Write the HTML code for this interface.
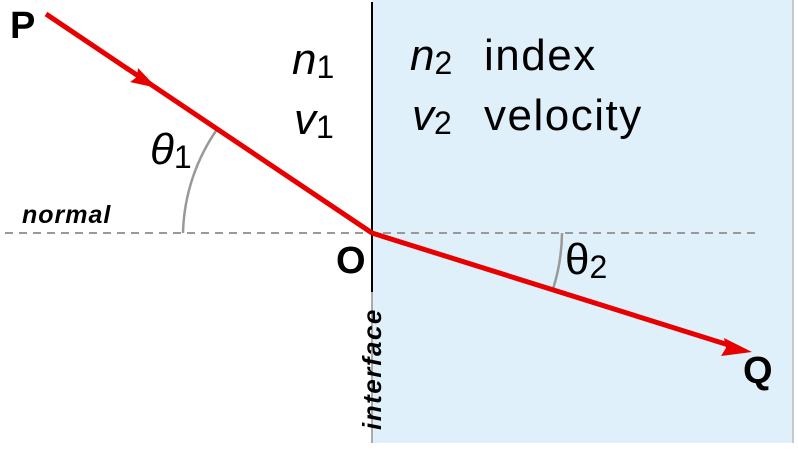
<!DOCTYPE html>
<html><head><style>body{margin:0;background:#fff}</style></head><body>
<svg width="798" height="450" xmlns="http://www.w3.org/2000/svg" font-family="Liberation Sans, DejaVu Sans, sans-serif">
<rect x="372" y="0" width="421" height="443" fill="#dff0fb"/>
<line x1="793" y1="0" x2="793" y2="443" stroke="#bbb" stroke-width="1.5"/>
<line x1="372" y1="2" x2="372" y2="292" stroke="#000" stroke-width="2"/>
<line x1="372" y1="292" x2="372" y2="443" stroke="#aaa" stroke-width="2"/>
<line x1="5" y1="233" x2="760" y2="233" stroke="#999" stroke-width="2" stroke-dasharray="8,6"/>
<path d="M183 233 A189 189 0 0 1 218 128" fill="none" stroke="#999" stroke-width="2.5"/>
<path d="M562 233 A190 190 0 0 1 553 289" fill="none" stroke="#999" stroke-width="2.5"/>
<line x1="46" y1="14" x2="372" y2="233" stroke="#e80000" stroke-width="5"/>
<line x1="372" y1="233" x2="735" y2="347" stroke="#e80000" stroke-width="5"/>
<path d="M157 88 L130 82 L137 77 L138 68 Z" fill="#e80000"/>
<path d="M752 352 L721 356 L726 348 L724 338 Z" fill="#e80000"/>
<g font-size="44" fill="#000">
<text x="292" y="74" font-style="italic">n<tspan font-size="32" font-style="normal" dy="4">1</tspan></text>
<text x="294" y="134" font-style="italic">v<tspan font-size="32" font-style="normal" dy="4">1</tspan></text>
<text x="410" y="70" font-style="italic">n<tspan font-size="32" font-style="normal" dy="4">2</tspan></text>
<text x="484" y="70" letter-spacing="1.5">index</text>
<text x="412" y="130" font-style="italic">v<tspan font-size="32" font-style="normal" dy="4">2</tspan></text>
<text x="484" y="130" letter-spacing="1.5">velocity</text>
<text x="150" y="164" font-style="italic">θ<tspan font-size="32" font-style="normal" dy="4">1</tspan></text>
<text x="565" y="274">θ<tspan font-size="32" dy="4">2</tspan></text>
</g>
<text x="22" y="223" font-size="25" font-weight="bold" font-style="italic" letter-spacing="1">normal</text>
<text transform="translate(381,430) rotate(-90)" font-size="26" font-weight="bold" font-style="italic" letter-spacing="1.5">interface</text>
<g font-size="38" font-weight="bold">
<text x="10" y="38">P</text>
<text x="336" y="273">O</text>
<text x="743" y="383">Q</text>
</g>
</svg>
</body></html>
